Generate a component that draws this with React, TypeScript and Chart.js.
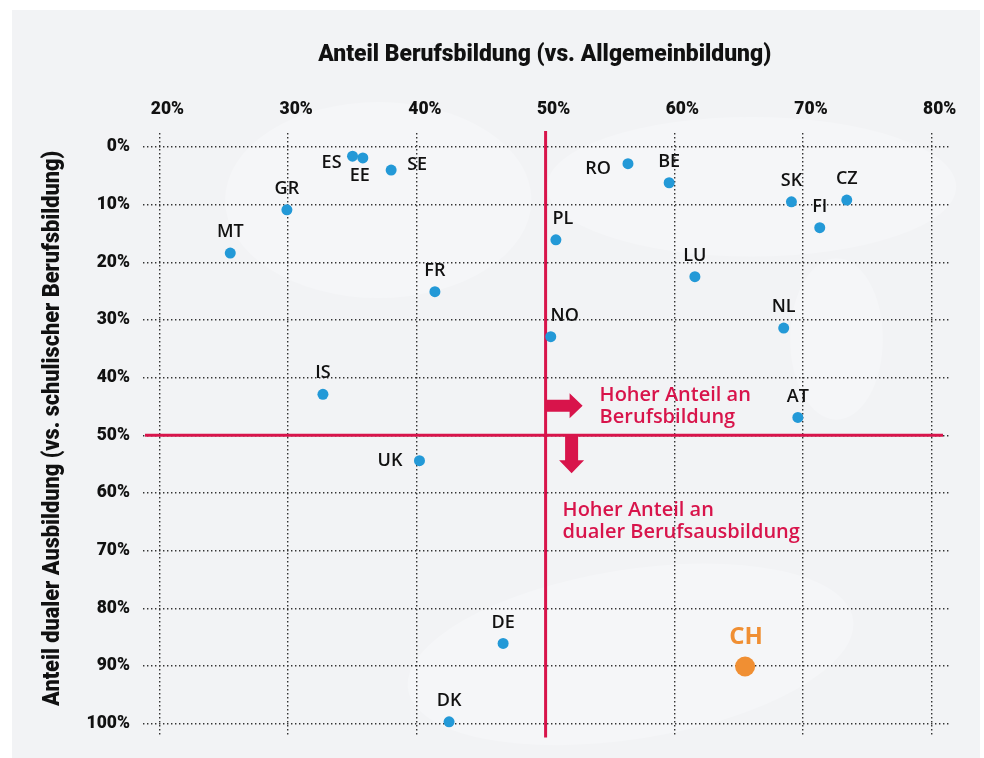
import { useEffect, useRef } from "react";
import { Chart, registerables } from "chart.js";

Chart.register(...registerables);

// ---------- data ----------
const countries = ["ES", "EE", "SE", "GR", "MT", "RO", "BE", "SK", "CZ", "FI", "PL", "LU", "NL", "NO", "AT", "FR", "IS", "UK", "DE", "DK"];
const vocationalShare = [35.0, 35.8, 38.0, 29.9, 25.5, 56.4, 59.6, 69.1, 73.4, 71.3, 50.8, 61.6, 68.5, 50.4, 69.6, 41.4, 32.7, 40.2, 46.7, 42.5];
const dualShare = [1.6, 1.9, 4.0, 10.9, 18.4, 2.9, 6.2, 9.5, 9.2, 14.0, 16.1, 22.5, 31.4, 32.9, 46.9, 25.1, 42.9, 54.4, 86.1, 99.7];

const highlightCountries = ["CH"];
const highlightVocational = [65.5];
const highlightDual = [90.1];

const xTickValues = [20, 30, 40, 50, 60, 70, 80];
const yTickValues = [0, 10, 20, 30, 40, 50, 60, 70, 80, 90, 100];

const thresholdVocational = 50;
const thresholdDual = 50;

const xAxisTitle = "Anteil Berufsbildung (vs. Allgemeinbildung)";
const yAxisTitle = "Anteil dualer Ausbildung (vs. schulischer Berufsbildung)";
const noteRight = ["Hoher Anteil an", "Berufsbildung"];
const noteDown = ["Hoher Anteil an", "dualer Berufsausbildung"];

// background blobs in data units: [x, y, rx(x-units), ry(y-units), rotationDeg]
const blobs: [number, number, number, number, number][] = [
  [37.0, 9.2, 11.9, 17.0, 0],
  [66.0, 6.9, 15.9, 12.1, 0],
  [72.6, 33.3, 3.6, 14.0, 0],
  [56.6, 88.0, 17.5, 14.7, -9],
];

// ---------- styles ----------
const BLUE = "#2399d7";
const ORANGE = "#f08f33";
const RED = "#d8144b";
const INK = "#111111";
const PANEL = "#f2f3f5";
const BLOB = "#f5f6f8";

// label placement: [textAlign, dx, dy]
const labelPlacement: Record<string, [CanvasTextAlign, number, number]> = {
  ES: ["right", -11, 7],
  EE: ["center", -3, 18],
  SE: ["left", 16, -5],
  RO: ["right", -17, 5],
  UK: ["right", -17, 0],
  PL: ["center", 7, -21],
  NO: ["center", 14, -21],
  CH: ["center", 1, -29],
};
const defaultPlacement: [CanvasTextAlign, number, number] = ["center", 0, -21];

const decorPlugin = {
  id: "decor",
  beforeDraw(chart: any) {
    const { ctx, scales } = chart;
    const xs = scales.x;
    const ys = scales.y;
    const pxPerX = Math.abs(xs.getPixelForValue(1) - xs.getPixelForValue(0));
    const pxPerY = Math.abs(ys.getPixelForValue(1) - ys.getPixelForValue(0));
    ctx.save();
    ctx.fillStyle = BLOB;
    blobs.forEach(([x, y, rx, ry, rot]) => {
      ctx.beginPath();
      ctx.ellipse(xs.getPixelForValue(x), ys.getPixelForValue(y), rx * pxPerX, ry * pxPerY, (rot * Math.PI) / 180, 0, Math.PI * 2);
      ctx.fill();
    });
    ctx.restore();
  },
  beforeDatasetsDraw(chart: any) {
    const { ctx, scales, chartArea } = chart;
    const cx = scales.x.getPixelForValue(thresholdVocational);
    const cy = scales.y.getPixelForValue(thresholdDual);
    ctx.save();
    ctx.strokeStyle = RED;
    ctx.fillStyle = RED;
    ctx.lineWidth = 3;
    ctx.beginPath();
    ctx.moveTo(chartArea.left + 2, cy);
    ctx.lineTo(chartArea.right - 7, cy);
    ctx.moveTo(cx, chartArea.top - 2);
    ctx.lineTo(cx, chartArea.bottom + 3);
    ctx.stroke();

    // right arrow
    const ay = cy - 29.5;
    ctx.beginPath();
    ctx.moveTo(cx, ay - 6);
    ctx.lineTo(cx + 24, ay - 6);
    ctx.lineTo(cx + 24, ay - 12.5);
    ctx.lineTo(cx + 37, ay);
    ctx.lineTo(cx + 24, ay + 12.5);
    ctx.lineTo(cx + 24, ay + 6);
    ctx.lineTo(cx, ay + 6);
    ctx.closePath();
    ctx.fill();

    // down arrow
    const ax = cx + 26;
    ctx.beginPath();
    ctx.moveTo(ax - 6.5, cy);
    ctx.lineTo(ax - 6.5, cy + 25);
    ctx.lineTo(ax - 12.5, cy + 25);
    ctx.lineTo(ax, cy + 38);
    ctx.lineTo(ax + 12.5, cy + 25);
    ctx.lineTo(ax + 6.5, cy + 25);
    ctx.lineTo(ax + 6.5, cy);
    ctx.closePath();
    ctx.fill();

    ctx.font = "600 20px 'Open Sans'";
    ctx.textAlign = "left";
    ctx.textBaseline = "middle";
    ctx.fillText(noteRight[0], cx + 54, cy - 39.5);
    ctx.fillText(noteRight[1], cx + 54, cy - 18);
    ctx.fillText(noteDown[0], cx + 17, cy + 75);
    ctx.fillText(noteDown[1], cx + 17, cy + 97);
    ctx.restore();
  },
  afterDatasetsDraw(chart: any) {
    const { ctx, scales } = chart;
    ctx.save();
    ctx.textBaseline = "middle";
    ctx.font = "600 18px 'Open Sans'";
    ctx.fillStyle = INK;
    countries.forEach((c, i) => {
      const [align, dx, dy] = labelPlacement[c] || defaultPlacement;
      ctx.textAlign = align;
      ctx.fillText(c, scales.x.getPixelForValue(vocationalShare[i]) + dx, scales.y.getPixelForValue(dualShare[i]) + dy);
    });
    ctx.font = "bold 24px 'Open Sans'";
    ctx.fillStyle = ORANGE;
    highlightCountries.forEach((c, i) => {
      const [align, dx, dy] = labelPlacement[c] || defaultPlacement;
      ctx.textAlign = align;
      ctx.fillText(c, scales.x.getPixelForValue(highlightVocational[i]) + dx, scales.y.getPixelForValue(highlightDual[i]) + dy);
    });
    ctx.restore();
  },
  afterDraw(chart: any) {
    const { ctx } = chart;
    ctx.save();
    ctx.fillStyle = INK;
    ctx.font = "900 23px Roboto";
    ctx.textAlign = "center";
    ctx.textBaseline = "alphabetic";
    // x title
    const wx = ctx.measureText(xAxisTitle).width;
    ctx.save();
    ctx.translate(544.7, 61);
    ctx.scale(453 / wx, 1);
    ctx.fillText(xAxisTitle, 0, 0);
    ctx.restore();
    // y title
    const wy = ctx.measureText(yAxisTitle).width;
    ctx.save();
    ctx.translate(59, 428.4);
    ctx.rotate(-Math.PI / 2);
    ctx.scale(555 / wy, 1);
    ctx.fillText(yAxisTitle, 0, 0);
    ctx.restore();
    ctx.restore();
  },
};

const tickFont = { family: "Roboto", weight: 900 as any, size: 17.5 };

export default function App() {
  const canvasRef = useRef<HTMLCanvasElement>(null);

  useEffect(() => {
    if (!canvasRef.current) return;
    const chart = new Chart(canvasRef.current, {
      type: "scatter",
      data: {
        datasets: [
          {
            label: "Länder",
            data: countries.map((_, i) => ({ x: vocationalShare[i], y: dualShare[i] })),
            backgroundColor: BLUE,
            borderWidth: 0,
            pointRadius: 5.5,
            pointHoverRadius: 5.5,
          },
          {
            label: "CH",
            data: highlightCountries.map((_, i) => ({ x: highlightVocational[i], y: highlightDual[i] })),
            backgroundColor: ORANGE,
            borderWidth: 0,
            pointRadius: 10,
            pointHoverRadius: 10,
          },
        ],
      },
      options: {
        responsive: false,
        animation: false,
        events: [],
        layout: { padding: { left: 0, top: 0, right: 34, bottom: 23 } },
        plugins: {
          legend: { display: false },
          tooltip: { enabled: false },
          title: { display: false },
        },
        scales: {
          x: {
            type: "linear",
            position: "top",
            min: 18.72,
            max: 81.42,
            afterBuildTicks: (axis: any) => {
              axis.ticks = xTickValues.map((v) => ({ value: v }));
            },
            afterFit: (s: any) => {
              s.height = 133;
            },
            grid: { drawTicks: false, color: "#333", lineWidth: 1.4 },
            border: { display: false, dash: [1.4, 2.6] },
            ticks: {
              padding: 13,
              labelOffset: 8,
              maxRotation: 0,
              color: INK,
              font: tickFont,
              callback: (v: any) => `${v}%`,
            },
          },
          y: {
            type: "linear",
            position: "left",
            reverse: true,
            min: -2.43,
            max: 101.9,
            afterBuildTicks: (axis: any) => {
              axis.ticks = yTickValues.map((v) => ({ value: v }));
            },
            afterFit: (s: any) => {
              s.width = 143;
            },
            grid: { drawTicks: false, color: "#333", lineWidth: 1.4 },
            border: { display: false, dash: [1.4, 2.6] },
            ticks: {
              padding: 13,
              color: INK,
              font: tickFont,
              callback: (v: any) => `${v}%`,
            },
          },
        },
      },
      plugins: [decorPlugin],
    });
    return () => chart.destroy();
  }, []);

  return (
    <div style={{ position: "absolute", left: 0, top: 0, width: 984, height: 758, background: "#ffffff", overflow: "hidden" }}>
      <div style={{ position: "absolute", left: 12, top: 10, width: 968, height: 748, background: PANEL }} />
      <canvas ref={canvasRef} width={984} height={758} style={{ position: "absolute", left: 0, top: 0, display: "block" }} />
    </div>
  );
}
